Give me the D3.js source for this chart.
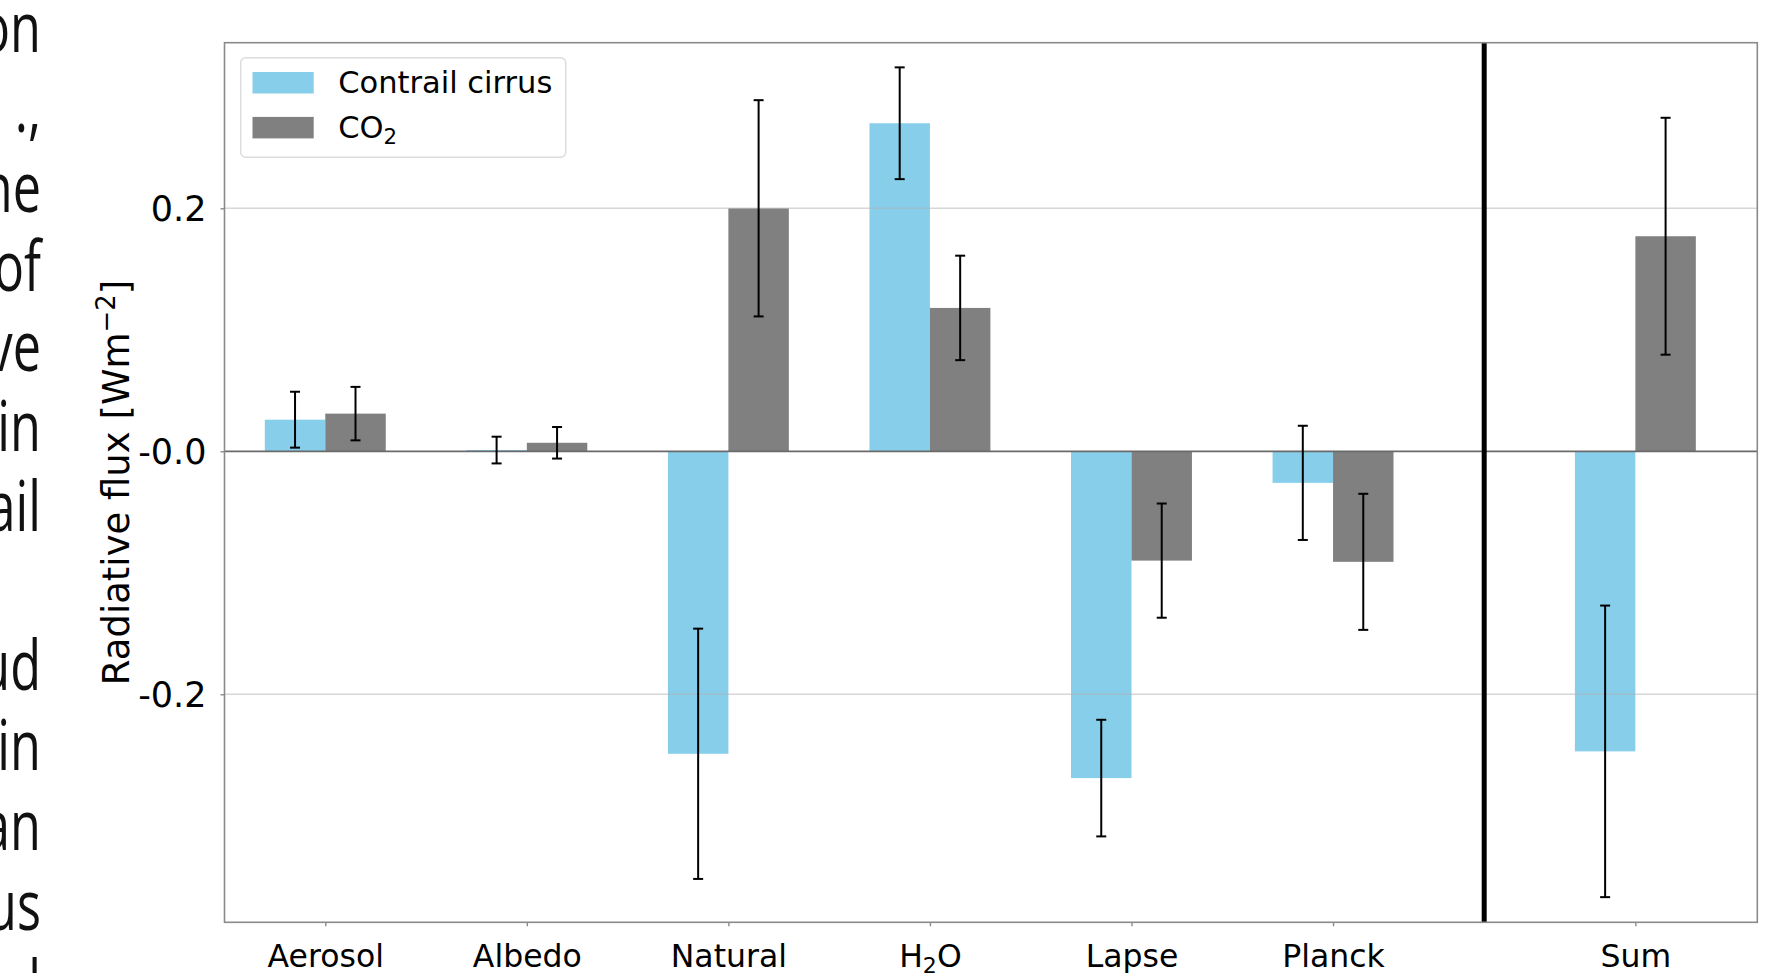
<!DOCTYPE html>
<html><head><meta charset="utf-8">
<script src="https://cdn.jsdelivr.net/npm/d3@7"></script>
<style>html,body{margin:0;padding:0;background:#fff;overflow:hidden;} svg{display:block;}</style>
</head><body>
<script>
// ---- data ----
const categories = ["Aerosol", "Albedo", "Natural", "H2O", "Lapse", "Planck", "Sum"];
const positions = [0, 1, 2, 3, 4, 5, 6.5];
const contrail = [0.026, 0.001, -0.249, 0.270, -0.269, -0.026, -0.247];
const contrailErr = [0.023, 0.011, 0.103, 0.046, 0.048, 0.047, 0.120];
const co2 = [0.031, 0.007, 0.200, 0.118, -0.090, -0.091, 0.177];
const co2Err = [0.022, 0.013, 0.089, 0.043, 0.047, 0.056, 0.0975];
const seriesNames = ["Contrail cirrus", "CO2"];
const yTicks = [-0.2, 0.0, 0.2];
const yTickLabels = ["-0.2", "-0.0", "0.2"];
const separatorAt = 5.75;
const sideText = ["on", ".,", "he", "of", "ve", "in", "ail", "", "ud", "in", "an", "us", "l"];

// ---- layout ----
const W = 1766, H = 973;
const colors = ["#87ceeb", "#808080"];
const barW = 0.3;
const font = "'DejaVu Sans', sans-serif";
const fsX = 31.5, fsY = 35, fsLab = 37, fsLeg = 30.5;

const svg = d3.select("body").append("svg").attr("width", W).attr("height", H);

const x = d3.scaleLinear().domain([-0.5, 7.105]).range([224.5, 1757.3]);
const y = d3.scaleLinear().domain([-0.3877, 0.3363]).range([922.3, 42.7]);

// side text fragments (page background)
svg.append("g").selectAll("text").data(sideText).join("text")
  .attr("transform", (d, i) => `translate(41,${52 + i * 79.8}) scale(0.72,1)`)
  .attr("text-anchor", "end")
  .attr("font-family", "'Open Sans', sans-serif").attr("font-size", 70)
  .attr("fill", "#111").text(d => d);

function chem(sel, str, size) {
  const parts = str.match(/[A-Za-z ]+|\d+/g);
  let sub = false;
  parts.forEach(p => {
    const isNum = /^\d+$/.test(p);
    const t = sel.append("tspan").text(p);
    if (isNum && !sub) { t.attr("font-size", size * 0.7).attr("dy", size * 0.2); sub = true; }
    else if (!isNum && sub) { t.attr("dy", -size * 0.2); sub = false; }
  });
}

const plot = svg.append("g");

// bars
const data = categories.map((c, i) => ({c, p: positions[i], v: [contrail[i], co2[i]], e: [contrailErr[i], co2Err[i]]}));
[0, 1].forEach(s => {
  const off = s === 0 ? -barW / 2 : barW / 2;
  plot.append("g").selectAll("rect").data(data).join("rect")
    .attr("x", d => x(d.p + off - barW / 2))
    .attr("width", d => x(d.p + off + barW / 2) - x(d.p + off - barW / 2))
    .attr("y", d => y(Math.max(0, d.v[s])))
    .attr("height", d => Math.abs(y(d.v[s]) - y(0)))
    .attr("fill", colors[s]);
});

// grid lines
plot.append("g").selectAll("line").data(yTicks.filter(t => t !== 0)).join("line")
  .attr("x1", x.range()[0]).attr("x2", x.range()[1])
  .attr("y1", d => y(d)).attr("y2", d => y(d))
  .attr("stroke", "#b0b0b0").attr("stroke-opacity", 0.5).attr("stroke-width", 1.5);

// zero line
plot.append("line").attr("x1", x.range()[0]).attr("x2", x.range()[1])
  .attr("y1", y(0)).attr("y2", y(0)).attr("stroke", "#6a6a6a").attr("stroke-width", 1.8);

// error bars
[0, 1].forEach(s => {
  const off = s === 0 ? -barW / 2 : barW / 2;
  const g = plot.append("g").attr("stroke", "#000").attr("stroke-width", 2);
  data.forEach(d => {
    const cx = x(d.p + off);
    const y1 = y(d.v[s] + d.e[s]), y2 = y(d.v[s] - d.e[s]);
    g.append("line").attr("x1", cx).attr("x2", cx).attr("y1", y1).attr("y2", y2);
    g.append("line").attr("x1", cx - 5).attr("x2", cx + 5).attr("y1", y1).attr("y2", y1);
    g.append("line").attr("x1", cx - 5).attr("x2", cx + 5).attr("y1", y2).attr("y2", y2);
  });
});

// separator
plot.append("line").attr("x1", x(separatorAt)).attr("x2", x(separatorAt))
  .attr("y1", y.range()[1]).attr("y2", y.range()[0]).attr("stroke", "#000").attr("stroke-width", 5);

// spines
svg.append("rect").attr("x", x.range()[0]).attr("y", y.range()[1])
  .attr("width", x.range()[1] - x.range()[0]).attr("height", y.range()[0] - y.range()[1])
  .attr("fill", "none").attr("stroke", "#8a8a8a").attr("stroke-width", 1.6);

// x axis
const xAxis = svg.append("g").attr("transform", `translate(0,${y.range()[0]})`)
  .call(d3.axisBottom(x).tickValues(positions).tickSize(4).tickFormat(""));
xAxis.select(".domain").remove();
xAxis.selectAll(".tick line").attr("stroke", "#8a8a8a").attr("stroke-width", 1.4);
xAxis.selectAll(".tick").each(function(d, i) {
  const t = d3.select(this).append("text").attr("y", 44.5).attr("fill", "#000")
    .attr("font-family", font).attr("font-size", fsX).attr("text-anchor", "middle");
  chem(t, categories[i], fsX);
});

// y axis
const yAxis = svg.append("g").attr("transform", `translate(${x.range()[0]},0)`)
  .call(d3.axisLeft(y).tickValues(yTicks).tickSize(4).tickPadding(14).tickFormat((d, i) => yTickLabels[i]));
yAxis.select(".domain").remove();
yAxis.selectAll(".tick line").attr("stroke", "#8a8a8a").attr("stroke-width", 1.4);
yAxis.selectAll(".tick text").attr("font-family", font).attr("font-size", fsY).attr("fill", "#000").attr("dy", "0.36em");

// y label
const yl = svg.append("text")
  .attr("transform", `translate(129,${(y.range()[0] + y.range()[1]) / 2}) rotate(-90)`)
  .attr("text-anchor", "middle").attr("font-family", font).attr("font-size", fsLab).attr("fill", "#000");
yl.append("tspan").text("Radiative flux [Wm");
yl.append("tspan").text("\u22122").attr("font-size", fsLab * 0.7).attr("dy", -fsLab * 0.38);
yl.append("tspan").text("]").attr("dy", fsLab * 0.38);

// legend
const lg = svg.append("g").attr("transform", `translate(${x.range()[0] + 16.2},${y.range()[1] + 15})`);
lg.append("rect").attr("width", 325).attr("height", 99.6).attr("rx", 5)
  .attr("fill", "#fff").attr("fill-opacity", 0.8).attr("stroke", "#dcdcdc").attr("stroke-width", 1.5);
seriesNames.forEach((n, i) => {
  lg.append("rect").attr("x", 11.8).attr("y", 14.3 + i * 44.9).attr("width", 61.2).attr("height", 21.5).attr("fill", colors[i]);
  const t = lg.append("text").attr("x", 97.5).attr("y", 35.8 + i * 44.9)
    .attr("font-family", font).attr("font-size", fsLeg).attr("fill", "#000");
  chem(t, n, fsLeg);
});
</script>
</body></html>
